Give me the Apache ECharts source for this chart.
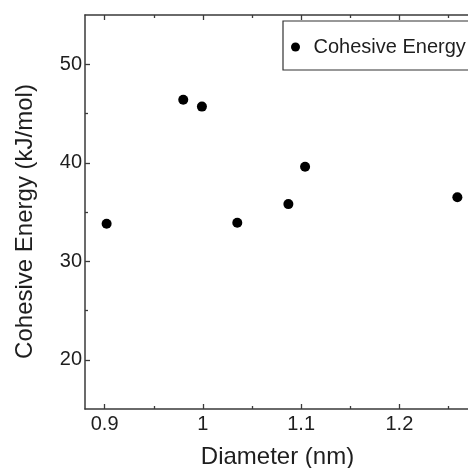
<!DOCTYPE html>
<html>
<head>
<meta charset="utf-8">
<script src="https://cdn.jsdelivr.net/npm/echarts@6/dist/echarts.min.js"></script>
<style>html,body{margin:0;padding:0;background:#fff;}#c{width:468px;height:468px;}</style>
</head>
<body>
<div id="c"></div>
<script>
const seriesName = 'Cohesive Energy';
const diameters = [0.902, 0.980, 0.999, 1.035, 1.087, 1.104, 1.259];
const energies = [33.8, 46.4, 45.7, 33.9, 35.8, 39.6, 36.5];
const xMajorTicks = [0.9, 1.0, 1.1, 1.2];
const xMinorTicks = [0.95, 1.05, 1.15, 1.25];
const yMajorTicks = [20, 30, 40, 50];
const yMinorTicks = [25, 35, 45];
const xRange = [0.88, 1.28];
const yRange = [15, 55];

const FONT = 'Liberation Sans, Arial, sans-serif';
const LINE = '#3a3a3a';
const TXT = '#1e1e1e';

function xAx(pos, major, showLine, showLabel, name) {
  return {
    type: 'value', position: pos, min: xRange[0], max: xRange[1],
    name: name || '', nameLocation: 'middle', nameGap: 36,
    nameTextStyle: { fontFamily: FONT, fontSize: 24, color: TXT, padding: [0, 8, 0, 0] },
    axisLine: { show: showLine, onZero: false, lineStyle: { color: LINE, width: 1.5 } },
    axisTick: { show: true, inside: true, length: major ? 5 : 3, customValues: major ? xMajorTicks : xMinorTicks, lineStyle: { color: LINE, width: 1.3 } },
    axisLabel: { show: showLabel, customValues: xMajorTicks, fontFamily: FONT, fontSize: 20, color: TXT, margin: 5 },
    splitLine: { show: false }
  };
}
function yAx(major, showLine, showLabel, name) {
  return {
    type: 'value', position: 'left', min: yRange[0], max: yRange[1],
    name: name || '', nameLocation: 'middle', nameGap: 48,
    nameTextStyle: { fontFamily: FONT, fontSize: 24, color: TXT, padding: [0, 19, 0, 0] },
    axisLine: { show: showLine, onZero: false, lineStyle: { color: LINE, width: 1.5 } },
    axisTick: { show: true, inside: true, length: major ? 5 : 3, customValues: major ? yMajorTicks : yMinorTicks, lineStyle: { color: LINE, width: 1.3 } },
    axisLabel: { show: showLabel, customValues: yMajorTicks, fontFamily: FONT, fontSize: 20, color: TXT, margin: 3 },
    splitLine: { show: false }
  };
}

const chart = echarts.init(document.getElementById('c'), null, { renderer: 'canvas' });
chart.setOption({
  animation: false,
  backgroundColor: '#fff',
  grid: { left: 85, top: 15, right: -10, bottom: 59, outerBoundsMode: 'none', containLabel: false },
  legend: {
    data: [seriesName], left: 283, top: 21,
    itemWidth: 26, itemHeight: 9,
    padding: [16, 30, 13, 8],
    borderColor: '#333', borderWidth: 1.2,
    textStyle: { fontFamily: FONT, fontSize: 20, color: TXT }
  },
  xAxis: [
    xAx('bottom', true, true, true, 'Diameter (nm)'),
    xAx('bottom', false, false, false),
    xAx('top', true, true, false),
    xAx('top', false, false, false)
  ],
  yAxis: [
    yAx(true, true, true, 'Cohesive Energy (kJ/mol)'),
    yAx(false, false, false)
  ],
  series: [{
    name: seriesName, type: 'scatter', xAxisIndex: 0, yAxisIndex: 0,
    symbol: 'circle', symbolSize: 10,
    itemStyle: { color: '#000', opacity: 1 },
    data: diameters.map((d, i) => [d, energies[i]])
  }]
});
</script>
</body>
</html>
